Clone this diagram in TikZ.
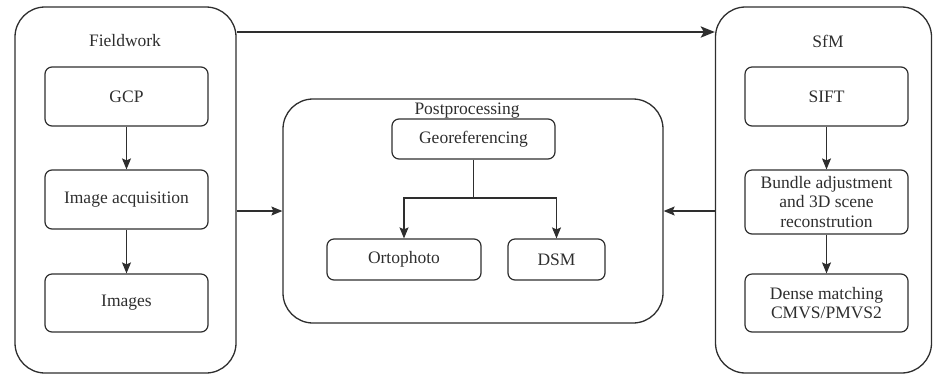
\documentclass[tikz,border=0pt]{standalone}
\usepackage{fontspec}
\setmainfont{Liberation Serif}
\usetikzlibrary{arrows.meta}
\definecolor{ink}{HTML}{2E2E2E}
\begin{document}
\begin{tikzpicture}[x=1pt,y=-1pt,
  every node/.style={font=\fontsize{17.5}{19.5}\selectfont, text=ink},
  container/.style={draw=ink, line width=1.3pt, rounded corners=30pt, inner sep=0pt},
  box/.style={draw=ink, line width=1.2pt, rounded corners=7pt, inner sep=0pt, align=center},
  arr/.style={draw=ink, line width=1.1pt, -{Stealth[length=11pt,width=9pt,inset=2pt]}},
  bigarr/.style={draw=ink, line width=2.7pt, -{Stealth[length=14pt,width=11pt,inset=3pt]}},
  lbl/.style={inner sep=0pt}]
\useasboundingbox (0,0) rectangle (933,376);
% containers
\node[container, minimum width=221pt, minimum height=366pt] (fw) at (125.5,190) {};
\node[container, minimum width=380pt, minimum height=224pt] (pp) at (473,211) {};
\node[container, minimum width=216pt, minimum height=366pt] (sfm) at (823.5,190) {};
% labels
\node[lbl] (fwl) at (125,41) {Fieldwork};
\node[lbl] (ppl) at (467,111) {Postprocessing};
\node[lbl] (sfml) at (828,41) {SfM};
% fieldwork boxes
\node[box, minimum width=163pt, minimum height=59pt] (gcp) at (126.5,96.5) {GCP};
\node[box, minimum width=163pt, minimum height=59pt] (acq) at (126.5,199.5) {Image acquisition};
\node[box, minimum width=163pt, minimum height=58pt] (img) at (126.5,303) {Images};
% postprocessing boxes
\node[box, minimum width=163pt, minimum height=40pt] (geo) at (473.5,139) {Georeferencing};
\node[box, minimum width=154pt, minimum height=41pt] (orto) at (404,259.5) {Ortophoto};
\node[box, minimum width=97pt, minimum height=41pt] (dsm) at (556.5,259.5) {DSM};
% sfm boxes
\node[box, minimum width=163pt, minimum height=59pt] (sift) at (826.5,96.5) {SIFT};
\node[box, minimum width=163pt, minimum height=64pt] (bund) at (826.5,202) {Bundle adjustment\\and 3D scene\\reconstrution};
\node[box, minimum width=163pt, minimum height=58pt] (dense) at (826.5,303) {Dense matching\\CMVS/PMVS2};
% connectors
\draw[arr] (gcp) -- (acq);
\draw[arr] (acq) -- (img);
\draw[arr] (sift) -- (bund);
\draw[arr] (bund) -- (dense);
\coordinate (split) at (473.5,198);
\draw[line width=1.1pt, draw=ink] (geo.south) -- (geo.south |- split);
\draw[arr] (geo.south |- split) -| (orto.north);
\draw[arr] (geo.south |- split) -| (dsm.north);
\coordinate (ty) at (0,32);
\draw[bigarr] (fw.east |- ty) -- (sfm.west |- ty);
\draw[arr] (fw.east |- pp.west) -- (pp.west);
\draw[arr] (sfm.west |- pp.east) -- (pp.east);
\end{tikzpicture}
\end{document}
